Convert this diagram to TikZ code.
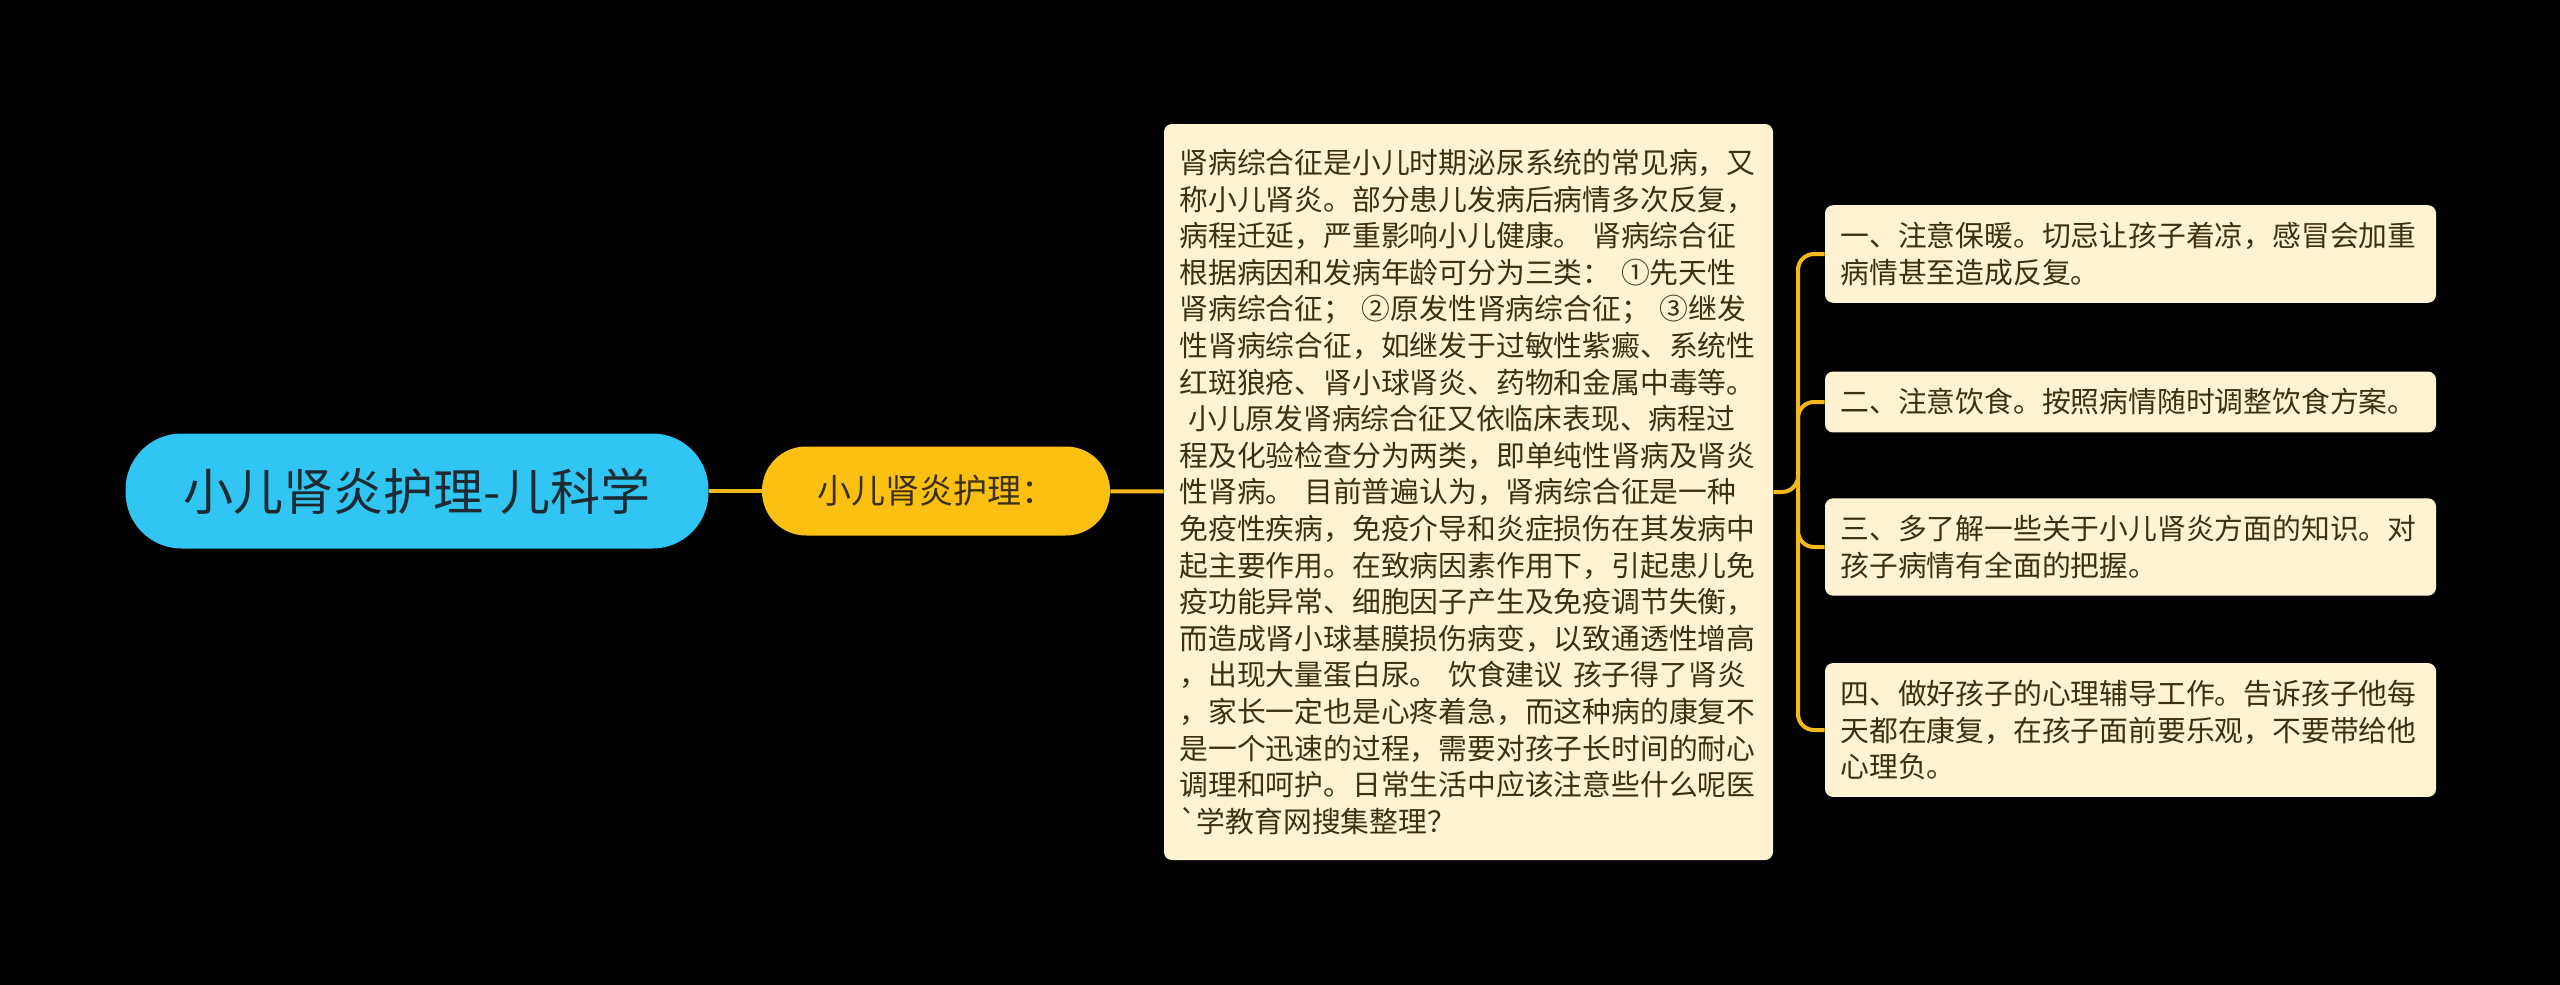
\documentclass[tikz,border=0pt]{standalone}
\usepackage{fontspec}
\newfontfamily\cjkfont{Noto Sans CJK SC}
\XeTeXlinebreaklocale "zh"
\definecolor{rootblue}{HTML}{30C5F2}
\definecolor{subgold}{HTML}{FCC012}
\definecolor{leafcream}{HTML}{FFF3D1}
\definecolor{linkgold}{HTML}{F2B81C}
\definecolor{inkdark}{HTML}{1E2A30}
\definecolor{inkbrown}{HTML}{3B3112}
\tikzset{
  rootnode/.style={fill=rootblue, text=inkdark, rounded corners=28pt, minimum width=291.5pt, minimum height=57.5pt, font=\cjkfont\fontsize{25}{30}\selectfont},
  subnode/.style={fill=subgold, text=inkbrown, rounded corners=22pt, minimum width=174pt, minimum height=44.5pt, font=\cjkfont\fontsize{17}{20}\selectfont},
  leafnode/.style={fill=leafcream, text=inkbrown, rounded corners=4pt, text width=290pt, align=left, inner xsep=7.75pt, inner ysep=8.5pt, font=\cjkfont\fontsize{14.4}{18.3}\selectfont},
  link/.style={draw=linkgold, line width=2pt, rounded corners=8pt}
}
\begin{document}
\begin{tikzpicture}[x=0.5pt,y=-0.5pt]
            %sfondo
            \fill[black] (0,0) rectangle (2560,985);
            \useasboundingbox (0,0) rectangle (2560,985);

            %nodo radice e ramo
            \node[rootnode] (root) at (417,491) {小儿肾炎护理-儿科学};
            \node[subnode] (care) at (936,491) {小儿肾炎护理：};

            %testo centrale
            \node[leafnode, text width=289pt, minimum height=368pt] (body) at (1468.5,492) {肾病综合征是小儿时期泌尿系统的常见病，又\\称小儿肾炎。部分患儿发病后病情多次反复，\\病程迁延，严重影响小儿健康。 肾病综合征\\根据病因和发病年龄可分为三类： ①先天性\\肾病综合征； ②原发性肾病综合征； ③继发\\性肾病综合征，如继发于过敏性紫癜、系统性\\红斑狼疮、肾小球肾炎、药物和金属中毒等。\\\hspace*{0.3em}小儿原发肾病综合征又依临床表现、病程过\\程及化验检查分为两类，即单纯性肾病及肾炎\\性肾病。 目前普遍认为，肾病综合征是一种\\免疫性疾病，免疫介导和炎症损伤在其发病中\\起主要作用。在致病因素作用下，引起患儿免\\疫功能异常、细胞因子产生及免疫调节失衡，\\而造成肾小球基膜损伤病变，以致通透性增高\\，出现大量蛋白尿。 饮食建议 孩子得了肾炎\\，家长一定也是心疼着急，而这种病的康复不\\是一个迅速的过程，需要对孩子长时间的耐心\\调理和呵护。日常生活中应该注意些什么呢医\\`学教育网搜集整理？};

            %quattro consigli a destra
            \node[leafnode] (tip1) at (2130.5,254) {一、注意保暖。切忌让孩子着凉，感冒会加重\\病情甚至造成反复。};
            \node[leafnode] (tip2) at (2130.5,402) {二、注意饮食。按照病情随时调整饮食方案。};
            \node[leafnode] (tip3) at (2130.5,547) {三、多了解一些关于小儿肾炎方面的知识。对\\孩子病情有全面的把握。};
            \node[leafnode] (tip4) at (2130.5,730) {四、做好孩子的心理辅导工作。告诉孩子他每\\天都在康复，在孩子面前要乐观，不要带给他\\心理负。};

            \coordinate (fork) at (1798,492);

            %Archi
            \draw[link] (root) -- (care);
            \draw[link] (care) -- (body);
            \draw[link] (body.east) -- (fork) |- (tip1.west);
            \draw[link] (fork) |- (tip2.west);
            \draw[link] (fork) |- (tip3.west);
            \draw[link] (fork) |- (tip4.west);

        \end{tikzpicture}
\end{document}
